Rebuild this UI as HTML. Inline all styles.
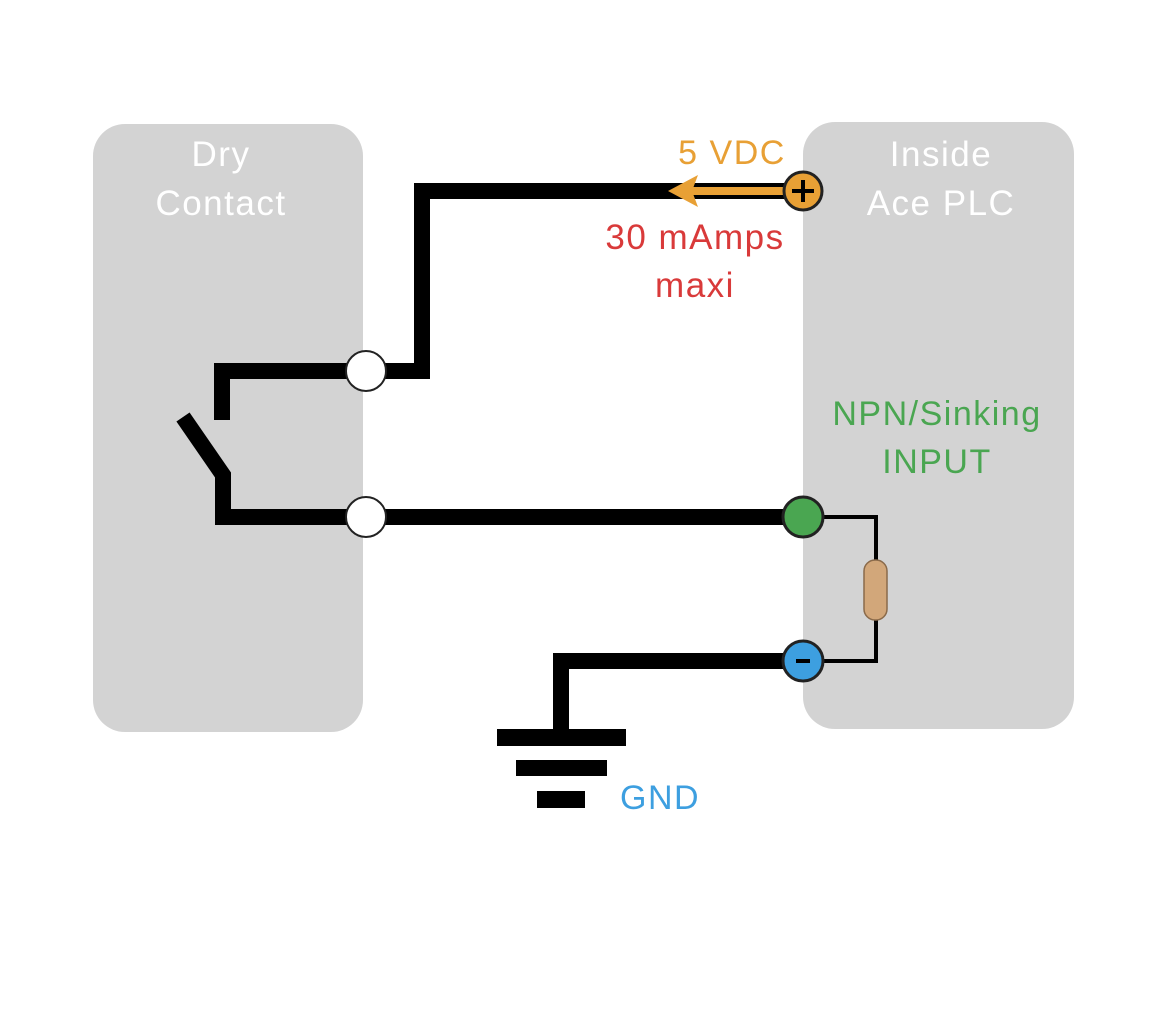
<!DOCTYPE html>
<html><head><meta charset="utf-8"><style>
html,body{margin:0;padding:0;background:#fff;}
svg{display:block;}
text{font-family:"Liberation Sans",sans-serif;letter-spacing:1.5px;}
</style></head><body>
<svg width="1170" height="1014" viewBox="0 0 1170 1014" xmlns="http://www.w3.org/2000/svg">
<rect x="93" y="124" width="270" height="608" rx="32" fill="#d3d3d3"/>
<rect x="803" y="122" width="271" height="607" rx="32" fill="#d3d3d3"/>
<g font-size="35" fill="#fff" text-anchor="middle">
<text x="221" y="166">Dry</text>
<text x="221" y="215">Contact</text>
<text x="941" y="166">Inside</text>
<text x="941" y="215">Ace PLC</text>
</g>
<text x="732" y="164" font-size="34" fill="#e8a035" text-anchor="middle">5 VDC</text>
<text x="695" y="249" font-size="35" fill="#d93a3a" text-anchor="middle">30 mAmps</text>
<text x="695" y="297" font-size="35" fill="#d93a3a" text-anchor="middle">maxi</text>
<text x="937" y="425" font-size="34" fill="#4aa651" text-anchor="middle">NPN/Sinking</text>
<text x="937" y="473" font-size="34" fill="#4aa651" text-anchor="middle">INPUT</text>
<text x="620" y="809" font-size="34" fill="#3d9fe0">GND</text>
<g fill="none" stroke="#000" stroke-width="16">
<polyline points="366,371 422,371 422,191 800,191"/>
<polyline points="366,371 222,371 222,420"/>
<polyline points="366,517 223,517 223,475 183,417"/>
<polyline points="366,517 800,517"/>
<polyline points="800,661 561,661 561,737"/>
</g>
<rect x="497" y="729" width="129" height="17" fill="#000"/>
<rect x="516" y="760" width="91" height="16" fill="#000"/>
<rect x="537" y="791" width="48" height="17" fill="#000"/>
<polyline points="803,517 876,517 876,661 803,661" fill="none" stroke="#000" stroke-width="4"/>
<rect x="864" y="560" width="23" height="60" rx="11" fill="#d2a77a" stroke="#8a6a4a" stroke-width="1.5"/>
<line x1="690" y1="191" x2="790" y2="191" stroke="#e8a035" stroke-width="8"/>
<polygon points="668,191 698,175 692,191 698,207" fill="#e8a035"/>
<circle cx="366" cy="371" r="20" fill="#fff" stroke="#222" stroke-width="2"/>
<circle cx="366" cy="517" r="20" fill="#fff" stroke="#222" stroke-width="2"/>
<circle cx="803" cy="191" r="19" fill="#e8a035" stroke="#222" stroke-width="3"/>
<path d="M792 191H814M803 180V202" stroke="#000" stroke-width="4"/>
<circle cx="803" cy="517" r="20" fill="#4aa651" stroke="#222" stroke-width="3"/>
<circle cx="803" cy="661" r="20" fill="#3d9fe0" stroke="#222" stroke-width="3"/>
<path d="M796 661H810" stroke="#000" stroke-width="4"/>
</svg>
</body></html>
